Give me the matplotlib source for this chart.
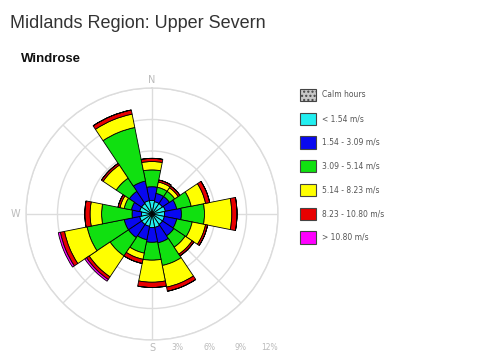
import numpy as np
import matplotlib
matplotlib.use("Agg")
import matplotlib.pyplot as plt
from matplotlib.patches import Patch

# Windrose, Midlands Region: Upper Severn - frequency (%) per direction and speed class
DIRECTIONS = ["N", "NNE", "NE", "ENE", "E", "ESE", "SE", "SSE",
              "S", "SSW", "SW", "WSW", "W", "WNW", "NW", "NNW"]
SPEED_CLASSES = ["< 1.54 m/s", "1.54 - 3.09 m/s", "3.09 - 5.14 m/s",
                 "5.14 - 8.23 m/s", "8.23 - 10.80 m/s", "> 10.80 m/s"]
CALM_LABEL = "Calm hours"

LT_154 = [1.3, 1.2, 1.2, 1.3, 1.2, 1.2, 1.2, 1.3, 1.3, 1.2, 1.2, 1.2, 1.0, 1.2, 1.2, 1.3]
S154_309 = [1.3, 0.8, 0.8, 1.1, 1.6, 1.2, 1.3, 1.5, 1.4, 1.3, 1.5, 1.5, 0.9, 0.8, 1.4, 1.9]
S309_514 = [1.6, 0.6, 0.6, 1.4, 2.2, 1.5, 1.3, 2.2, 1.7, 1.3, 2.1, 3.6, 2.9, 0.7, 1.5, 5.2]
S514_823 = [0.8, 0.5, 0.4, 1.4, 2.6, 1.3, 0.8, 2.1, 2.1, 0.6, 2.4, 2.2, 1.1, 0.4, 1.5, 1.3]
S823_1080 = [0.3, 0.2, 0.2, 0.4, 0.5, 0.2, 0.2, 0.4, 0.5, 0.4, 0.3, 0.4, 0.5, 0.2, 0.2, 0.4]
GT_1080 = [0.0, 0.0, 0.0, 0.0, 0.0, 0.0, 0.0, 0.0, 0.0, 0.0, 0.2, 0.2, 0.0, 0.0, 0.0, 0.0]

RINGS = [3, 6, 9, 12]

COLORS = ["#22eef0", "#0808f0", "#10e010", "#ffff00", "#e80000", "#ff00ff"]
CALM_COLOR = "#c8c8c8"
GRID = "#dcdcdc"

fig = plt.figure(figsize=(4.93, 3.60), dpi=100)
fig.text(0.02, 0.922, "Midlands Region: Upper Severn", fontsize=13, color="#333333",
         family=["Liberation Sans Narrow", "Liberation Sans"], va="baseline")
fig.text(0.043, 0.828, "Windrose", fontsize=9.5, fontweight="bold", color="#111111",
         family=["Liberation Sans", "DejaVu Sans"], va="baseline")

ax = fig.add_axes([26 / 493, 20 / 360, 252 / 493, 252 / 360], projection="polar")
ax.set_theta_zero_location("N")
ax.set_theta_direction(-1)
ax.set_axisbelow(True)

theta = np.deg2rad(np.arange(len(DIRECTIONS)) * 22.5)
width = np.deg2rad(22.5)
series = [LT_154, S154_309, S309_514, S514_823, S823_1080, GT_1080]
bottom = np.zeros(len(DIRECTIONS))
for vals, col in zip(series, COLORS):
    vals = np.array(vals)
    ax.bar(theta, vals, width=width, bottom=bottom, color=col,
           edgecolor="black", linewidth=0.6, align="center")
    bottom += vals

ax.set_ylim(0, 12)
ax.set_yticks(RINGS)
ax.set_yticklabels([])
ax.set_xticks(np.deg2rad(np.arange(0, 360, 45)))
ax.set_xticklabels([])
ax.grid(True, color=GRID, linewidth=1.0)
ax.spines["polar"].set_color(GRID)
ax.spines["polar"].set_linewidth(1.0)

# direction labels
lab_kw = dict(fontsize=7, color="#bbbbbb", ha="center", va="center")
ax.text(0, 12.8, "N", **lab_kw)
ax.text(np.deg2rad(270), 13.0, "W", **lab_kw)
ax.text(np.deg2rad(180), 12.8, "S", **lab_kw)

# ring labels along the bottom
for r in RINGS:
    x_px, _ = ax.transData.transform((np.pi / 2, r))
    x_fig = fig.transFigure.inverted().transform((x_px, 0))[0]
    fig.text(x_fig, 13 / 360, f"{r}%", fontsize=5.5, color="#bbbbbb", ha="right", va="center")

handles = [Patch(facecolor=CALM_COLOR, edgecolor="#444444", hatch="....", linewidth=0.8)]
handles += [Patch(facecolor=c, edgecolor="#444444", linewidth=0.8) for c in COLORS]
labels = [CALM_LABEL] + SPEED_CLASSES
leg = fig.legend(handles, labels, loc="upper left", bbox_to_anchor=(296 / 493, 1 - 85 / 360),
                 frameon=False, fontsize=5.5, handlelength=2.1, handleheight=2.1,
                 labelspacing=1.5, handletextpad=0.8, borderpad=0)
for t in leg.get_texts():
    t.set_color("#555555")

plt.savefig("out.png", dpi=100)
